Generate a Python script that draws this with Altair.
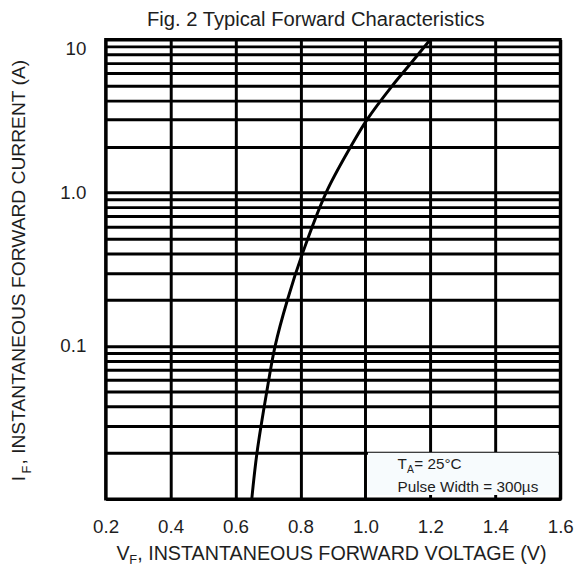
import altair as alt
import pandas as pd

# Curve (forward voltage V, forward current A)
vf = [0.650, 0.666, 0.696, 0.722, 0.760, 0.806, 0.879, 0.955, 1.005, 1.083, 1.140, 1.200]
if_ = [0.01, 0.02, 0.05, 0.1, 0.2, 0.4, 1.0, 2.0, 3.0, 5.0, 7.0, 10.0]

x_ticks = [0.2, 0.4, 0.6, 0.8, 1.0, 1.2, 1.4, 1.6]
y_grid = [k * d for d in (0.01, 0.1, 1.0) for k in range(1, 10)] + [10.0]

title_text = "Fig. 2 Typical Forward Characteristics"
note1_main, note1_sub, note1_rest = "T", "A", "= 25°C"
note2 = "Pulse Width = 300µs"
xt_main, xt_sub, xt_rest = "V", "F", ", INSTANTANEOUS FORWARD VOLTAGE (V)"
yt_main, yt_sub, yt_rest = "I", "F", ", INSTANTANEOUS FORWARD CURRENT (A)"

FONT = "Liberation Sans"
TXT = "#1e1e1e"

df = pd.DataFrame({"V": vf, "I": if_})
one = pd.DataFrame({"a": [0]})

line = alt.Chart(df).mark_line(color="black", strokeWidth=3, interpolate="catmull-rom").encode(
    x=alt.X("V:Q", scale=alt.Scale(domain=[0.2, 1.6], nice=False, zero=False),
            axis=alt.Axis(values=x_ticks, format=".1f", title=None, grid=True,
                          gridColor="black", gridWidth=3, gridOpacity=1,
                          domain=False, ticks=False, labelPadding=19, labelFlush=False,
                          labelFontSize=19, labelFont=FONT, labelColor=TXT)),
    y=alt.Y("I:Q", scale=alt.Scale(type="log", domain=[0.01, 10], nice=False),
            axis=alt.Axis(values=y_grid, title=None, grid=True,
                          gridColor="black", gridWidth=3, gridOpacity=1,
                          domain=False, ticks=False, labelPadding=20,
                          labelFlush=True,
                          labelExpr="abs(datum.value-0.1)<1e-9 ? '0.1' : abs(datum.value-1)<1e-9 ? '1.0' : abs(datum.value-10)<1e-9 ? '10' : ''",
                          labelFontSize=19, labelFont=FONT, labelColor=TXT)),
)

box = alt.Chart(one).mark_rect(fill="#f7fbfd").encode(
    x=alt.value(266), x2=alt.value(459), y=alt.value(419), y2=alt.value(462))

def txt(text, x, y, size, angle=0, align="left"):
    return alt.Chart(one).mark_text(text=text, font=FONT, fontSize=size, color=TXT,
                                    align=align, baseline="alphabetic", angle=angle).encode(
        x=alt.value(x), y=alt.value(y))

layers = [
    line, box,
    txt(title_text, 213, -14, 20.5, align="center"),
    txt(note1_main, 296, 436, 15.5),
    txt(note1_sub, 305.5, 440, 10.5),
    txt(note1_rest, 313, 436, 15.5),
    txt(note2, 296, 459, 15.5),
    txt(xt_main, 11, 528, 20),
    txt(xt_sub, 24, 532, 13),
    txt(xt_rest, 32, 528, 20),
    txt(yt_main, -82, 448, 19.5, angle=270),
    txt(yt_sub, -76, 440, 13, angle=270),
    txt(yt_rest, -82, 431, 19.5, angle=270),
]

chart = alt.layer(*layers).properties(
    width=461, height=466,
    autosize=alt.AutoSizeParams(type="none"),
    padding={"left": 99, "top": 28, "right": 20, "bottom": 66},
).configure_view(stroke="black", strokeWidth=3)

chart.save("out.html", embed_options={"renderer": "svg", "actions": False})
